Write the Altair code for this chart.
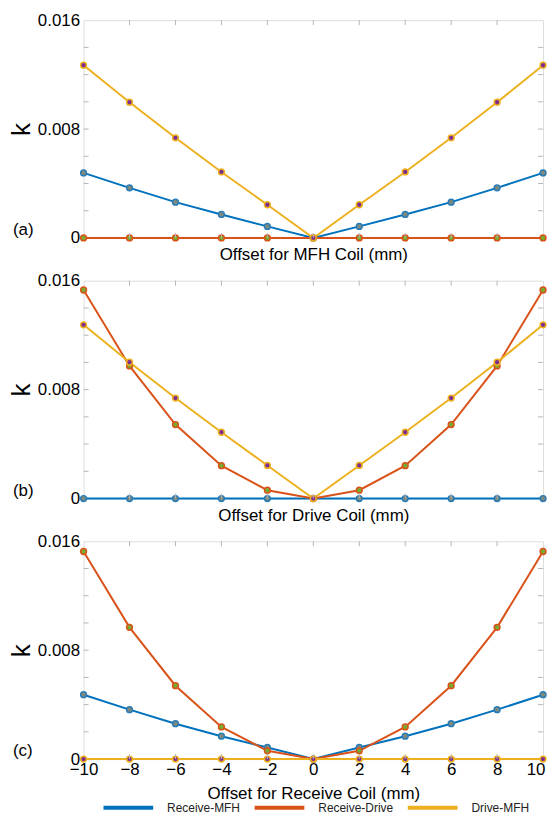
import altair as alt
import pandas as pd

x_vals = [-10, -8, -6, -4, -2, 0, 2, 4, 6, 8, 10]

# Panel (a): offset for MFH coil
rm_a = [0.00478, 0.00368, 0.00263, 0.00173, 0.00085, 0.0, 0.00085, 0.00173, 0.00263, 0.00368, 0.00478]
rd_a = [0.0] * 11
dm_a = [0.01269, 0.00997, 0.00736, 0.00485, 0.00244, 0.0, 0.00244, 0.00485, 0.00736, 0.00997, 0.01269]

# Panel (b): offset for drive coil
rm_b = [0.0] * 11
rd_b = [0.01532, 0.00974, 0.00543, 0.00241, 0.00061, 0.0, 0.00061, 0.00241, 0.00543, 0.00974, 0.01532]
dm_b = [0.01276, 0.01001, 0.00738, 0.00487, 0.00243, 0.0, 0.00243, 0.00487, 0.00738, 0.01001, 0.01276]

# Panel (c): offset for receive coil
rm_c = [0.00473, 0.00363, 0.00260, 0.00168, 0.00085, 0.0, 0.00085, 0.00168, 0.00260, 0.00363, 0.00473]
rd_c = [0.01525, 0.00968, 0.00539, 0.00236, 0.00061, 0.0, 0.00061, 0.00236, 0.00539, 0.00968, 0.01525]
dm_c = [0.0] * 11

series_names = ["Receive-MFH", "Receive-Drive", "Drive-MFH"]
line_colors = ["#0072BD", "#D95319", "#EDB120"]
marker_fill = ["#7f8a7c", "#77AC30", "#7E2F8E"]
marker_edge = ["#2a7cb8", "#D95319", "#EDB120"]

panel_labels = ["(a)", "(b)", "(c)"]
x_titles = ["Offset for MFH Coil (mm)", "Offset for Drive Coil (mm)", "Offset for Receive Coil (mm)"]
y_label_vals = [0, 0.008, 0.016]
y_tick_vals = [0.002, 0.004, 0.006, 0.008, 0.010, 0.012, 0.014]
x_tick_vals = [-8, -6, -4, -2, 0, 2, 4, 6, 8]

W, H = 462, 219
FONT = "Liberation Sans"


def panel(idx, rm, rd, dm, show_labels):
    rows = []
    for s, vals in enumerate([rm, rd, dm]):
        for xv, kv in zip(x_vals, vals):
            rows.append({"x": xv, "k": kv, "series": series_names[s],
                         "fill": marker_fill[s], "edge": marker_edge[s], "ord": s})
    df = pd.DataFrame(rows)

    xscale = alt.Scale(domain=[-10, 10], nice=False, zero=False)
    yscale = alt.Scale(domain=[0, 0.016], nice=False)
    xaxis = alt.Axis(values=x_vals, labels=show_labels, ticks=False, domain=False, grid=False,
                     title=x_titles[idx], titleFontSize=17, titleFontWeight="normal",
                     titleColor="#000000", labelFontSize=17, labelColor="#000000",
                     labelAlign={"condition": {"test": "datum.value == 10", "value": "right"}, "value": "center"},
                     labelOffset={"condition": {"test": "datum.value == 10", "value": 2}, "value": 0},
                     labelPadding=3, titlePadding=9 if not show_labels else 8,
                     labelFont=FONT, titleFont=FONT)
    yaxis = alt.Axis(values=y_label_vals, labelExpr="datum.value == 0 ? '0' : format(datum.value, '.3f')",
                     ticks=False, domain=False, grid=False, title="k", titleFontSize=26,
                     titleFontWeight="normal", titleColor="#000000", titleX=-54, titleY=H / 2,
                     titleBaseline="alphabetic", labelFontSize=17, labelColor="#000000",
                     labelPadding=4, labelFont=FONT, titleFont=FONT)
    xenc = alt.X("x:Q", scale=xscale, axis=xaxis)
    yenc = alt.Y("k:Q", scale=yscale, axis=yaxis)

    base = alt.Chart(df)
    layers = []
    for s in range(3):
        sub = base.transform_filter(alt.datum.ord == s)
        layers.append(sub.mark_line(strokeWidth=2).encode(
            x=xenc, y=yenc,
            color=alt.Color("series:N", scale=alt.Scale(domain=series_names, range=line_colors),
                            legend=alt.Legend(orient="none", legendX=18, legendY=785, direction="horizontal",
                                              title=None, symbolType="stroke", symbolSize=2500,
                                              clipHeight=14, symbolStrokeWidth=4, labelFontSize=12,
                                              labelOffset=12, columnPadding=12, labelColor="#222222",
                                              labelFont=FONT))))
    for s in range(3):
        sub = base.transform_filter(alt.datum.ord == s)
        layers.append(sub.mark_point(filled=False, size=34, strokeWidth=1.5, opacity=1).encode(
            x=xenc, y=yenc,
            fill=alt.Fill("fill:N", scale=None), stroke=alt.Stroke("edge:N", scale=None)))

    ydf = pd.DataFrame({"k": y_tick_vals})
    xdf = pd.DataFrame({"x": x_tick_vals})
    tick_col = "#b5b5b5"
    layers.append(alt.Chart(ydf).mark_rule(color=tick_col).encode(
        y=yenc, x=alt.value(0), x2=alt.value(5)))
    layers.append(alt.Chart(ydf).mark_rule(color=tick_col).encode(
        y=yenc, x=alt.value(W - 5), x2=alt.value(W)))
    layers.append(alt.Chart(xdf).mark_rule(color=tick_col).encode(
        x=xenc, y=alt.value(0), y2=alt.value(5)))
    layers.append(alt.Chart(xdf).mark_rule(color=tick_col).encode(
        x=xenc, y=alt.value(H - 5), y2=alt.value(H)))

    ldf = pd.DataFrame({"t": [panel_labels[idx]]})
    layers.append(alt.Chart(ldf).mark_text(align="left", baseline="middle", fontSize=17, font=FONT,
                                          color="#000000").encode(
        x=alt.value(-71), y=alt.value(H - 8), text="t:N"))

    return alt.layer(*layers).properties(width=W, height=H)


pa = panel(0, rm_a, rd_a, dm_a, False)
pb = panel(1, rm_b, rd_b, dm_b, False)
pc = panel(2, rm_c, rd_c, dm_c, True)

chart = alt.vconcat(pa, pb, pc, spacing=43, bounds="flush").properties(
    padding=0
).configure_view(stroke="#b8b8b8", strokeWidth=1).configure(font=FONT, background="#ffffff")

chart.save("out.html", embed_options={"renderer": "svg", "actions": False})
